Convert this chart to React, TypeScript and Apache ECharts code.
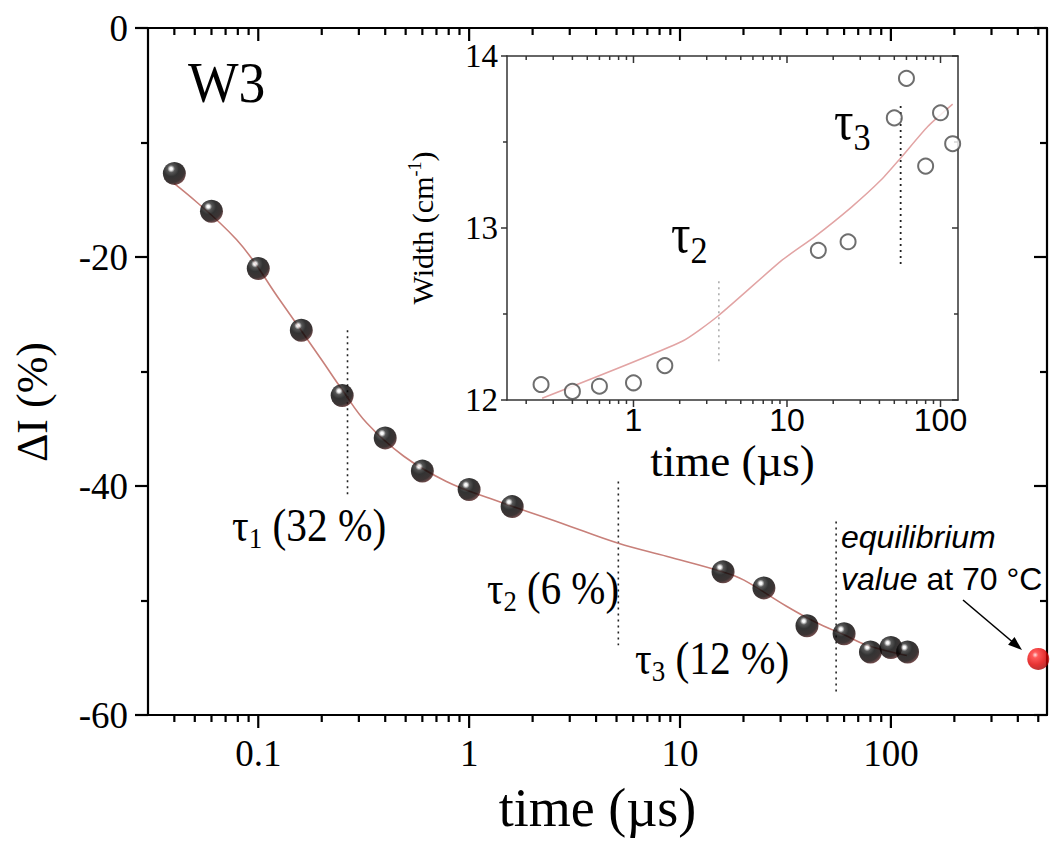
import { useEffect, useRef } from 'react';
import * as echarts from 'echarts';

// ---- main panel data (time in µs, ΔI in %) ----
const mainTimes = [0.04, 0.06, 0.1, 0.16, 0.25, 0.4, 0.6, 1.0, 1.6, 16, 25, 40, 60, 80, 100, 120];
const mainDelta = [-12.7, -16.0, -21.0, -26.4, -32.1, -35.8, -38.7, -40.3, -41.8, -47.5, -48.9, -52.2, -52.9, -54.5, -54.1, -54.5];
const equilibriumTimes = [500];
const equilibriumDelta = [-55.1];
const fitTimes = [0.04, 0.079, 0.127, 0.2, 0.25, 0.327, 0.49, 0.78, 1.26, 2.7, 5.1, 8.7, 16, 20, 32, 44, 60, 77, 119];
const fitDelta = [-13.6, -18.5, -23.8, -29.0, -31.6, -34.5, -37.4, -39.6, -41.1, -43.2, -45.0, -46.15, -47.5, -48.2, -50.5, -51.9, -53.0, -53.9, -54.8];
const mainTauTimes = [0.265, 5.1, 55];
const mainTauTop = [-26.4, -39.6, -43.1];
const mainTauBottom = [-40.8, -53.9, -58.0];
const mainXMajor = [0.1, 1, 10, 100];
const mainXRange = [0.03, 550];
const mainYRange = [-60, 0];
const mainYStep = 20;

// ---- inset data (time in µs, width in cm-1) ----
const insetTimes = [0.25, 0.4, 0.6, 1.0, 1.6, 16, 25, 50, 60, 80, 100, 120];
const insetWidth = [12.09, 12.05, 12.08, 12.1, 12.2, 12.87, 12.92, 13.64, 13.87, 13.36, 13.67, 13.49];
const insetFitTimes = [0.254, 2.06, 3.57, 9.2, 15.2, 26.2, 41.1, 55.4, 82.6, 120];
const insetFitWidth = [12.01, 12.34, 12.49, 12.81, 12.95, 13.12, 13.28, 13.41, 13.59, 13.72];
const insetTauTimes = [3.6, 55];
const insetTauTop = [12.69, 13.71];
const insetTauBottom = [12.21, 12.78];
const insetXMajor = [1, 10, 100];
const insetXRange = [0.15, 130];
const insetYRange = [12, 14];
const insetYStep = 1;

const serif = "'Liberation Serif', 'Times New Roman', serif";
const sans = "'Liberation Sans', Arial, sans-serif";

function logMinor(lo: number, hi: number): number[] {
  const out: number[] = [];
  for (let e = -3; e <= 3; e++) {
    for (let m = 2; m <= 9; m++) {
      const v = parseFloat((m * Math.pow(10, e)).toPrecision(6));
      if (v > lo * 1.0001 && v < hi * 0.9999) out.push(v);
    }
  }
  return out;
}

const zip = (a: number[], b: number[]) => a.map((v, i) => [v, b[i]]);

export default function App() {
  const ref = useRef<HTMLDivElement>(null);
  useEffect(() => {
    if (!ref.current) return;
    const chart = echarts.init(ref.current, undefined, { renderer: 'svg' });

    const mainLine = { color: '#000', width: 2.2 };
    const insetLine = { color: '#333', width: 1.5 };

    const logAxis = (grid: number, pos: string, range: number[], ls: any, label?: any, name?: any) => ({
      type: 'log', logBase: 10, gridIndex: grid, position: pos, min: range[0], max: range[1],
      axisLine: { show: true, onZero: false, lineStyle: ls },
      axisTick: { show: false },
      axisLabel: label ? label : { show: false },
      splitLine: { show: false },
      ...(name || {}),
    });

    const valAxis = (grid: number, pos: string, range: number[], step: number, len: number, mlen: number, inside: boolean, ls: any, label?: any, name?: any) => ({
      type: 'value', gridIndex: grid, position: pos, min: range[0], max: range[1], interval: step,
      axisLine: { show: true, onZero: false, lineStyle: ls },
      axisTick: { show: true, inside, length: len, lineStyle: ls },
      minorTick: { show: true, splitNumber: 2, length: mlen, lineStyle: ls },
      axisLabel: label ? label : { show: false },
      splitLine: { show: false },
      minorSplitLine: { show: false },
      ...(name || {}),
    });

    // log-axis ticks drawn through the axis scale (api.coord)
    const tickSeries = (xIdx: number, yIdx: number, values: number[], edge: number, len: number, ls: any) => ({
      type: 'custom', xAxisIndex: xIdx, yAxisIndex: yIdx, clip: false, silent: true, z: 6,
      data: values.map((v) => [v, edge]),
      renderItem: (_p: any, api: any) => {
        const pt = api.coord([api.value(0), api.value(1)]);
        return {
          type: 'line',
          shape: { x1: pt[0], y1: pt[1], x2: pt[0], y2: pt[1] + len },
          style: { stroke: ls.color, lineWidth: ls.width },
        };
      },
    });

    const sphere = new echarts.graphic.RadialGradient(0.36, 0.3, 0.75, [
      { offset: 0, color: '#ffffff' },
      { offset: 0.08, color: '#f2f2f2' },
      { offset: 0.22, color: '#2c2c2c' },
      { offset: 0.45, color: '#000000' },
      { offset: 0.8, color: '#0c0202' },
      { offset: 1, color: '#5e2828' },
    ]);
    const redSphere = new echarts.graphic.RadialGradient(0.36, 0.32, 0.75, [
      { offset: 0, color: '#ffd8d8' },
      { offset: 0.18, color: '#ff3030' },
      { offset: 0.6, color: '#e00000' },
      { offset: 1, color: '#a00000' },
    ]);

    const mainMinor = logMinor(mainXRange[0], mainXRange[1]);
    const insetMinor = logMinor(insetXRange[0], insetXRange[1]);

    const series: any[] = [
      {
        type: 'line', xAxisIndex: 0, yAxisIndex: 0, data: zip(fitTimes, fitDelta), smooth: 0.4,
        showSymbol: false, lineStyle: { color: '#c8807a', width: 1.6 }, z: 2,
      },
      ...mainTauTimes.map((t, i) => ({
        type: 'line', xAxisIndex: 0, yAxisIndex: 0, data: [[t, mainTauTop[i]], [t, mainTauBottom[i]]],
        showSymbol: false, lineStyle: { color: '#222', width: 1.6, type: [2, 4] }, z: 1,
      })),
      {
        type: 'scatter', xAxisIndex: 0, yAxisIndex: 0, data: zip(mainTimes, mainDelta), symbolSize: 23,
        itemStyle: { color: sphere }, z: 5,
      },
      {
        type: 'scatter', xAxisIndex: 0, yAxisIndex: 0, data: zip(equilibriumTimes, equilibriumDelta), symbolSize: 22,
        itemStyle: { color: redSphere }, z: 5,
      },
      {
        type: 'line', xAxisIndex: 2, yAxisIndex: 2, data: zip(insetFitTimes, insetFitWidth), smooth: 0.2,
        showSymbol: false, lineStyle: { color: '#e2a4a4', width: 1.5 }, z: 2,
      },
      ...insetTauTimes.map((t, i) => ({
        type: 'line', xAxisIndex: 2, yAxisIndex: 2, data: [[t, insetTauTop[i]], [t, insetTauBottom[i]]],
        showSymbol: false, lineStyle: { color: i === 0 ? '#9a9a9a' : '#222', width: i === 0 ? 1.3 : 1.8, type: [2, 4] }, z: 1,
      })),
      {
        type: 'scatter', xAxisIndex: 2, yAxisIndex: 2, data: zip(insetTimes, insetWidth), symbol: 'emptyCircle', symbolSize: 15,
        itemStyle: { color: '#4a4a4a', borderWidth: 1.5 }, z: 5,
      },
      // main panel log ticks: bottom outward, top inward
      tickSeries(0, 0, mainXMajor, mainYRange[0], 13, mainLine),
      tickSeries(0, 0, mainMinor, mainYRange[0], 7, mainLine),
      tickSeries(0, 0, mainXMajor, mainYRange[1], 13, mainLine),
      tickSeries(0, 0, mainMinor, mainYRange[1], 7, mainLine),
      // inset log ticks
      tickSeries(2, 2, insetXMajor, insetYRange[0], 7, insetLine),
      tickSeries(2, 2, insetMinor, insetYRange[0], 4, insetLine),
      tickSeries(2, 2, insetXMajor, insetYRange[1], 7, insetLine),
      tickSeries(2, 2, insetMinor, insetYRange[1], 4, insetLine),
    ];

    const tauRich = (size: number, sub: number, pad: number) => ({
      t: { fontFamily: serif, fontSize: size, lineHeight: size * 1.2, fill: '#000' },
      s: { fontFamily: serif, fontSize: sub, lineHeight: size * 1.2, fill: '#000', padding: [pad, 0, 0, 0] },
    });

    const option: any = {
      animation: false,
      backgroundColor: '#fff',
      grid: [
        { left: 148, top: 28, width: 899, height: 687, containLabel: false },
        { left: 507, top: 56, width: 451, height: 344, containLabel: false, show: true, backgroundColor: '#fff', borderWidth: 0 },
      ],
      xAxis: [
        logAxis(0, 'bottom', mainXRange, mainLine,
          { show: true, customValues: mainXMajor, formatter: (v: number) => String(v), fontFamily: serif, fontSize: 37, color: '#000', margin: 20 },
          { name: 'time (µs)', nameLocation: 'middle', nameGap: 66, nameTextStyle: { fontFamily: serif, fontSize: 54, color: '#000' } }),
        logAxis(0, 'top', mainXRange, mainLine),
        logAxis(1, 'bottom', insetXRange, insetLine,
          { show: true, customValues: insetXMajor, formatter: (v: number) => String(v), fontFamily: sans, fontSize: 32, color: '#000', margin: 4 },
          { name: 'time (µs)', nameLocation: 'middle', nameGap: 38, nameTextStyle: { fontFamily: serif, fontSize: 45, color: '#000' } }),
        logAxis(1, 'top', insetXRange, insetLine),
      ],
      yAxis: [
        valAxis(0, 'left', mainYRange, mainYStep, 13, 7, false, mainLine,
          { show: true, fontFamily: serif, fontSize: 37, color: '#000', margin: 20 }),
        valAxis(0, 'right', mainYRange, mainYStep, 13, 7, true, mainLine),
        valAxis(1, 'left', insetYRange, insetYStep, 6, 4, false, insetLine,
          { show: true, fontFamily: serif, fontSize: 33, color: '#000', margin: 9 },
          {
            name: '{a|Width (cm}{b|-1}{a|)}', nameLocation: 'middle', nameGap: 68,
            nameTextStyle: {
              rich: {
                a: { fontFamily: serif, fontSize: 30, color: '#000', lineHeight: 34 },
                b: { fontFamily: serif, fontSize: 18, color: '#000', lineHeight: 34, padding: [0, 0, 14, 0] },
              },
            },
          }),
        valAxis(1, 'right', insetYRange, insetYStep, 6, 4, true, insetLine),
      ],
      series,
      graphic: [
        { type: 'text', x: 32, y: 402, rotation: Math.PI / 2, z: 10, style: { text: 'ΔI (%)', fontFamily: serif, fontSize: 44, fill: '#000', align: 'center', verticalAlign: 'middle' } },
        { type: 'text', x: 188, y: 83, scaleX: 0.94, z: 10, style: { text: 'W3', fontFamily: serif, fontSize: 57, fill: '#000', verticalAlign: 'middle' } },
        { type: 'text', x: 232, y: 525, scaleX: 0.9, z: 10, style: { text: '{t|τ}{s|1}{t| (32 %)}', rich: tauRich(46, 30, 26), verticalAlign: 'middle' } },
        { type: 'text', x: 487, y: 588, scaleX: 0.89, z: 10, style: { text: '{t|τ}{s|2}{t| (6 %)}', rich: tauRich(46, 30, 26), verticalAlign: 'middle' } },
        { type: 'text', x: 635, y: 658, scaleX: 0.9, z: 10, style: { text: '{t|τ}{s|3}{t| (12 %)}', rich: tauRich(46, 30, 26), verticalAlign: 'middle' } },
        { type: 'text', x: 671, y: 234, scaleX: 0.9, z: 10, style: { text: '{t|τ}{s|2}', rich: tauRich(54, 38, 32), verticalAlign: 'middle' } },
        { type: 'text', x: 834, y: 121, scaleX: 0.9, z: 10, style: { text: '{t|τ}{s|3}', rich: tauRich(54, 38, 32), verticalAlign: 'middle' } },
        { type: 'text', x: 841, y: 537, z: 10, style: { text: 'equilibrium', fontFamily: sans, fontStyle: 'italic', fontSize: 32, fill: '#000', verticalAlign: 'middle' } },
        {
          type: 'text', x: 841, y: 579, z: 10,
          style: {
            text: '{i|value}{n| at 70 °C}', verticalAlign: 'middle',
            rich: {
              i: { fontFamily: sans, fontStyle: 'italic', fontSize: 32, fill: '#000' },
              n: { fontFamily: sans, fontSize: 32, fill: '#000' },
            },
          },
        },
        { type: 'line', z: 10, shape: { x1: 963, y1: 600, x2: 1012, y2: 641.5 }, style: { stroke: '#000', lineWidth: 1.6 } },
        { type: 'polygon', z: 10, shape: { points: [[1022, 650], [1008.1, 644.7], [1014.5, 637.1]] }, style: { fill: '#000' } },
      ],
    };

    chart.setOption(option);
    return () => chart.dispose();
  }, []);

  return <div ref={ref} style={{ position: 'absolute', left: 0, top: 0, width: 1050, height: 851 }} />;
}
